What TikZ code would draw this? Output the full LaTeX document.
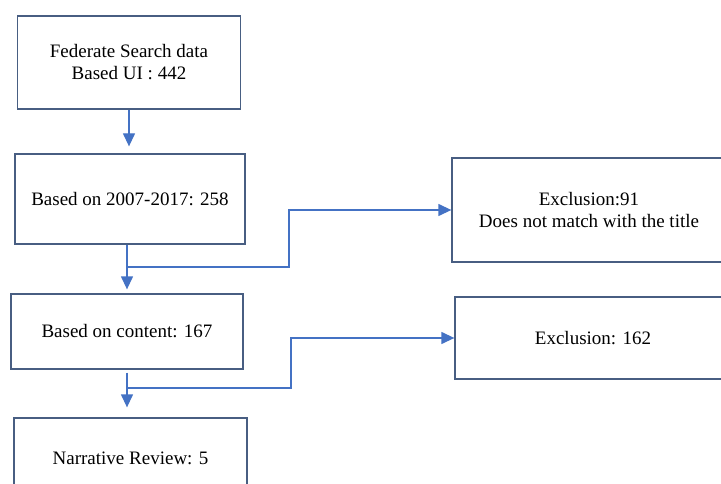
\documentclass[tikz,border=0pt]{standalone}
\usepackage{fontspec}
\setmainfont{Liberation Serif}
\usetikzlibrary{arrows.meta}
\definecolor{boxline}{RGB}{72,94,130}
\definecolor{flowblue}{RGB}{68,114,196}
\tikzset{
  stage/.style={draw=boxline,line width=1.3pt,align=center,inner sep=0pt,
    font=\fontsize{19}{22}\selectfont},
  link/.style={draw=flowblue,line width=1.3pt,-{Triangle[length=13pt,width=12pt]}}
}
\begin{document}
\begin{tikzpicture}[x=1pt,y=-1pt]
\useasboundingbox (0,0) rectangle (721,484);
% main column
\node[stage,minimum width=223pt,minimum height=93pt] (search) at (129,62.5) {Federate Search data\\Based UI : 442};
\node[stage,minimum width=230pt,minimum height=90pt] (years) at (130,199) {Based on 2007-2017: 258};
\node[stage,minimum width=232pt,minimum height=75pt] (content) at (127,331.5) {Based on content: 167};
\node[stage,minimum width=233pt,minimum height=80pt] (review) at (130.5,458) {Narrative Review: 5};
% exclusions
\node[stage,minimum width=274pt,minimum height=104pt] (excl1) at (589,210) {Exclusion:91\\Does not match with the title};
\node[stage,minimum width=276pt,minimum height=82pt] (excl2) at (593,338) {Exclusion: 162};
% connectors
\coordinate (split1) at (127,267);
\coordinate (bend1) at (289,238);
\coordinate (split2) at (127,388);
\coordinate (bend2) at (291,360);
\draw[link,shorten >=7pt] (search.south) -- (search.south |- years.north);
\draw[link,shorten >=4pt] (split1 |- years.south) -- (split1 |- content.north);
\draw[link] (split1) -| (bend1) |- (excl1.west);
\draw[link,shorten <=3pt,shorten >=10pt] (split2 |- content.south) -- (split2 |- review.north);
\draw[link] (split2) -| (bend2) |- (excl2.west);
\end{tikzpicture}
\end{document}
